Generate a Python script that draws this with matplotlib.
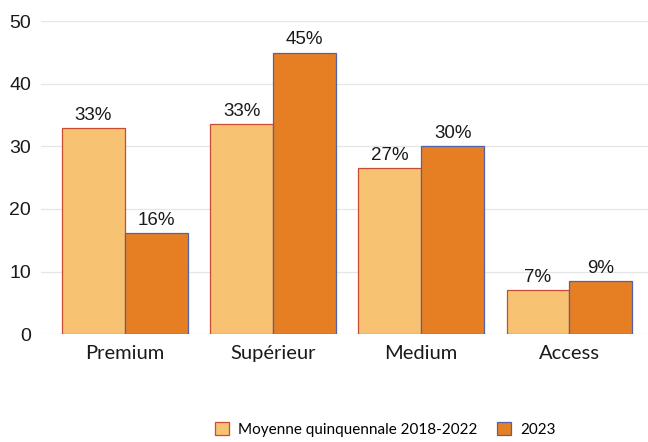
import matplotlib.pyplot as plt
import numpy as np

categories = ["Premium", "Supérieur", "Medium", "Access"]
moyenne = [32.9, 33.5, 26.6, 7.0]
annee_2023 = [16.1, 45.0, 30.0, 8.5]
labels_moyenne = ["33%", "33%", "27%", "7%"]
labels_2023 = ["16%", "45%", "30%", "9%"]

light = "#F7C372"
dark = "#E67F24"

fig = plt.figure(figsize=(6.48, 4.42), dpi=100)
ax = fig.add_axes([0.063, 0.244, 0.937, 0.708])

x = np.arange(len(categories))
w = 0.424
b1 = ax.bar(x - w / 2, moyenne, w, color=light, edgecolor="#C84B32", linewidth=0.9,
            label="Moyenne quinquennale 2018-2022", zorder=3)
b2 = ax.bar(x + w / 2, annee_2023, w, color=dark, edgecolor="#5163A6", linewidth=0.9,
            label="2023", zorder=3)

for bars, labs in [(b1, labels_moyenne), (b2, labels_2023)]:
    for r, t in zip(bars, labs):
        ax.annotate(t, (r.get_x() + r.get_width() / 2, r.get_height()),
                    xytext=(0, 3), textcoords="offset points", ha="center", va="bottom",
                    fontsize=13.5, family="Liberation Sans", color="#1a1a1a")

ax.set_ylim(0, 50)
ax.set_xlim(-0.566, 3.53)
ax.set_yticks([0, 10, 20, 30, 40, 50])
ax.set_xticks(x)
ax.set_xticklabels(categories, fontsize=14.5, family="Lato", color="#1a1a1a")
for t in ax.get_yticklabels():
    t.set_family("Liberation Sans")
    t.set_fontsize(14)
    t.set_color("#1a1a1a")
ax.tick_params(length=0)
ax.tick_params(axis="y", pad=7)
ax.tick_params(axis="x", pad=8)
ax.grid(axis="y", color="#E6E6E6", linewidth=0.9, zorder=0)
for s in ax.spines.values():
    s.set_visible(False)

fig.legend(handles=[b1, b2], loc="lower center", bbox_to_anchor=(0.595, -0.02), ncol=2,
           frameon=False, handlelength=0.9, handleheight=0.9, handletextpad=0.6,
           columnspacing=1.3, prop={"family": "Lato", "size": 11})

fig.savefig("out.png", dpi=100)
